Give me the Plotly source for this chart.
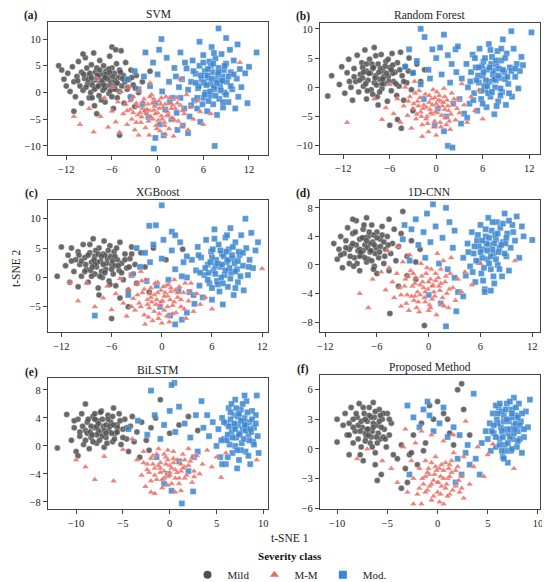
import plotly.graph_objects as go

# t-SNE points (approximate), one list per model and class
svm_mild = [(-13,5),(-12.6,4.2),(-12.3,2.5),(-12,1.2),(-11.8,3.6),(-11.5,0.2),(-11.2,4.8),(-11,2),(-10.8,-0.8),(-10.6,3),(-10.4,5.8),(-10.2,1.2),(-10,-2),(-10,3.8),(-9.8,0.4),(-9.6,2.6),(-9.5,6.5),(-9.3,4.6),(-9.2,1.6),(-9,-1),(-9,3.2),(-8.8,0),(-8.7,5.2),(-8.5,2.2),(-8.4,7.4),(-8.3,-2.5),(-8.2,3.8),(-8,1),(-8,4.6),(-7.8,2.8),(-7.7,-0.6),(-7.6,6),(-7.5,1.8),(-7.4,3.4),(-7.2,0.4),(-7.1,5),(-7,2.4),(-6.9,-1.8),(-6.8,4),(-6.7,1.2),(-6.5,3),(-6.4,-0.2),(-6.3,6.8),(-6.2,2),(-6,4.6),(-6,8.5),(-5.9,0.8),(-5.8,-3),(-5.7,3.6),(-5.5,1.6),(-5.4,5.4),(-5.3,-1),(-5.2,2.8),(-5,0.2),(-5,4.2),(-4.8,7.8),(-4.7,1.2),(-4.5,3.2),(-4.4,-2),(-4.2,5.6),(-4,0.6),(-3.8,2.4),(-3.6,-0.8),(-3.5,4.2),(-3.2,1.4),(-3,-2.6),(-2.8,3.2),(-2.5,0),(-2,2),(-1.5,-3.5),(-1,4),(-5,-8),(-8,-4),(-11,-3.5),(-9.8,7.2),(-5.5,8),(-8.6,1.4),(-7.9,3.2),(-7.3,2.2),(-6.6,2.6),(-6.1,1.2),(-8.1,2.4),(-7,0.8),(-9.1,2.4),(-6.4,4.4),(-5.6,2.2),
            (-9.4,1),(-8.9,3.6),(-8.3,0.6),(-7.6,4.2),(-7.1,1.4),(-6.8,3.4),(-6.2,0.4),(-5.9,3),(-5.3,1.8),(-4.9,3.8),(-4.3,2),(-3.9,1),(-8.7,2.8),(-7.8,1.2),(-6.9,2.8),(-6.3,3.8),(-5.6,0.6),(-4.6,2.6),(-9.7,3.4),(-10.5,2.2),(-3.4,2.8),(-2.9,0.8),(-7.4,-1.4),(-6,-0.8),(-8.6,-1)]
svm_mm = [(-11,-4.5),(-10.2,-6),(-8.4,-7.4),(-9,-3),(-7.5,-4.5),(-7,-1),(-6.5,-6.5),(-6,-3.5),(-5.5,-5.5),(-5.2,-1.8),(-5,-7.5),(-4.8,0.2),(-4.5,-4),(-4.2,-2.2),(-4,-6),(-3.8,1),(-3.6,-3.2),(-3.4,-5),(-3.2,-0.8),(-3,-7),(-2.8,-2),(-2.6,-4.2),(-2.4,0.4),(-2.2,-5.6),(-2,-3),(-1.8,-1.2),(-1.6,-6.6),(-1.5,-4),(-1.3,-2.2),(-1.1,-8),(-1,-3.4),(-0.8,-0.4),(-0.6,-5),(-0.4,-2.6),(-0.2,-6.2),(0,-3.8),(0.2,-1.6),(0.3,-7.2),(0.5,-4.4),(0.7,-2.8),(0.9,-5.6),(1.1,-0.8),(1.3,-3.6),(1.5,-6.8),(1.7,-2),(1.9,-4.8),(2.1,-8.2),(2.3,-3),(2.5,-1),(2.7,-5.4),(3,-2.4),(3.2,-6.4),(3.5,-4),(3.8,-0.4),(4,-7),(4.3,-2.8),(4.7,-5),(5.2,-1.6),(5.6,-3.6),(6,-6),(7,-4),(10.8,5.6),(3,2.5),(-1,1.8),(-6,1),(-8,2.5),(-2.5,-8),(1,-7.8),(-0.5,-1.2),(0.4,-2.2),(-1.4,-3.2),(1.2,-4.4),(-2.3,-3.8),(2,-2.4),(-0.9,-4.6),(0.1,-5.2),
          (-2.6,-2.6),(-2.1,-4.6),(-1.7,-3.4),(-1.2,-5.4),(-0.7,-2),(-0.3,-4),(0.2,-3),(0.6,-5),(1,-2.2),(1.4,-4.2),(1.8,-3),(2.2,-5.2),(2.6,-2),(-1.9,-1.8),(-0.1,-6.8),(0.9,-6.2),(-3.2,-3.8),(-2.8,-5.6),(3.3,-3.4),(-0.5,-3.3),(0.5,-1),(1.6,-1),(-1,-0.8),(-4,-3.4),(-3.6,-1.6)]
svm_mod = [(3,-1),(3.2,2.5),(3.5,-3),(3.8,4.5),(4,0.5),(4.2,-4.5),(4.4,2),(4.6,6),(4.8,-1.5),(5,3.5),(5.2,-3),(5.3,0.8),(5.5,5),(5.6,-5.5),(5.8,2.4),(6,-1),(6,7),(6.2,4),(6.3,0),(6.5,-3.5),(6.6,2.8),(6.8,5.8),(6.9,-0.6),(7,1.6),(7.1,8.5),(7.2,3.8),(7.3,-2.2),(7.5,0.6),(7.6,6.4),(7.7,2.4),(7.8,-4.2),(8,4.6),(8.1,-1.2),(8.2,1.2),(8.4,7.2),(8.5,3),(8.6,-2.8),(8.8,0),(9,5.4),(9.1,2),(9.3,-1.8),(9.5,8),(9.6,3.8),(9.8,0.6),(10,6),(10.2,-3),(10.4,2.6),(10.6,-0.8),(10.8,4.4),(11,1),(11.5,3.6),(11.8,-2),(12,4.8),(13,7.5),(8,12),(9,10.2),(7.5,-10),(10.5,9),(5.5,9.5),(6.5,3.2),(7.4,1),(8.3,2.2),(6.1,1.8),(7.9,3.4),(5.9,-2.2),(8.7,4.2),(6.7,-1.6),(7,5),
           (5.4,1.2),(5.7,3.2),(6.2,-0.4),(6.4,1.4),(6.6,4.4),(6.9,0.2),(7.1,2.6),(7.3,5.4),(7.6,-0.6),(7.8,1.8),(8,3.8),(8.3,0.4),(8.5,2.2),(8.8,5),(9,-0.4),(9.3,3),(9.6,1.2),(5,1.8),(4.7,4),(10,3.4),(6,5.6),(7.4,7.4),(8.6,-1.8),(5.2,-1),(4.4,-2.4),
           (-3,4),(-2.5,0.6),(-2,-2.2),(-1.8,3),(-1.2,-4.6),(-1,1.2),(-0.6,5.6),(-0.3,-2),(0,3.4),(0.3,-6),(0.5,10),(0.6,0.2),(1,-3.2),(1.2,6.5),(1.5,2),(1.8,-5),(2,-1),(2.2,4.6),(2.5,-3.8),(2.8,1),(3,7.5),(3.3,-6.2),(3.6,5.6),(4,-7.6),(-0.5,-10.5),(-0.3,-8.5),(0.8,-8),(-4,2.5),(-3.5,-1),(1.6,-1.8),(2.4,3),(-1.6,7.5),(0.2,8),(2.6,-7)]

rf_mild = [(-14,-1.5),(-13.5,2),(-12.5,0.5),(-12.2,3.5),(-11.8,-1),(-11.5,2.5),(-11.3,4.8),(-11,0),(-10.8,-2.2),(-10.6,3.2),(-10.4,1),(-10.2,5.5),(-10,-0.8),(-9.8,2.2),(-9.6,4.2),(-9.4,0.2),(-9.2,6.4),(-9,-2),(-9,2.8),(-8.8,1.2),(-8.6,4.8),(-8.4,-0.4),(-8.2,3.2),(-8,0.8),(-8,6.8),(-7.8,2),(-7.6,-1.6),(-7.5,4),(-7.3,1.4),(-7.1,5.6),(-7,-0.2),(-6.9,2.8),(-6.7,0.6),(-6.5,4.4),(-6.3,-2.4),(-6.2,1.8),(-6,3.4),(-5.8,-0.6),(-5.7,5.8),(-5.5,1),(-5.3,2.6),(-5.1,-1.4),(-5,4.2),(-4.8,0.2),(-4.6,6),(-4.4,2),(-4.2,-2.2),(-4,3.6),(-3.8,0.8),(-3.5,5),(-3.2,-0.4),(-3,2.4),(-2.5,4),(-2,1),(-1.5,3),(-6,-6.5),(-5,-5.5),(-4.5,-7),(-3,-4),(-7.5,-3),(-9.5,1.6),(-8.5,2.4),(-7.7,0.4),(-6.8,1.8),(-7.2,3.2),(-8.2,-1.2),(-6.4,2.4),(-9,4),(-5.6,3.8),
           (-9.9,1.2),(-9.5,3.4),(-9.1,0.6),(-8.7,2.4),(-8.3,4),(-7.9,1.6),(-7.4,2.6),(-7,0.6),(-6.6,3.6),(-6.1,1),(-5.6,2.4),(-5.2,0.6),(-4.7,3),(-8.9,-0.6),(-7.3,-0.8),(-10.6,1.8),(-11.2,1),(-6.2,4.8),(-7.8,5.4),(-4.2,1),(-3.6,2.8),(-9.4,2.6),(-8.1,3.4),(-6.9,1.4),(-5.8,3)]
rf_mm = [(-11.5,-6),(-7,-5.5),(-8,-2),(-6.5,-3.5),(-6,0.5),(-5.5,-4.5),(-5,-2),(-4.6,-6),(-4.2,-3.2),(-4,0),(-3.7,-4.8),(-3.4,-1.6),(-3.2,-7),(-3,-3.6),(-2.8,1),(-2.6,-5.4),(-2.4,-2.4),(-2.2,-0.6),(-2,-4.2),(-1.8,-6.4),(-1.6,-3),(-1.4,-1.2),(-1.2,-5),(-1,-7.6),(-0.8,-3.8),(-0.6,-2),(-0.4,-0.4),(-0.2,-5.8),(0,-2.8),(0.2,-4.4),(0.4,-1.4),(0.6,-6.8),(0.8,-3.2),(1,-0.2),(1.2,-5.2),(1.4,-2.2),(1.6,-4),(1.8,-7.2),(2,-1),(2.2,-3),(2.5,-5.6),(2.8,-2),(3,-4.4),(3.3,0.6),(3.6,-3),(4,-6),(4.5,-1.6),(5,-4),(6,-5.4),(5.5,-0.5),(-1.8,-8.4),(0,-8.2),(-0.5,-4.6),(0.6,-2.4),(-1.3,-3.4),(1.1,-3.8),(-0.2,-1.8),(0.3,-3.4),(-0.9,-2.6),(1.7,-5.8),(-2.7,-1),
         (-2.9,-2.8),(-2.5,-4.6),(-2.1,-1.8),(-1.7,-3.6),(-1.3,-5.4),(-0.9,-1.4),(-0.5,-3),(-0.1,-4.2),(0.3,-2.2),(0.7,-4.8),(1.1,-1.6),(1.5,-3.2),(1.9,-4.6),(2.3,-2),(-1.1,-6.2),(0.5,-6),(-1.9,-5),(-0.3,-6.8),(2.7,-3.6),(-3.6,-2.4),(0.9,-2.6),(-0.7,-4.4),(0.1,-0.8),(1.3,-6.4),(-2.3,-3.2)]
rf_mod = [(3,-2),(3.3,1.5),(3.6,-4.5),(3.9,4),(4.1,0),(4.3,-2.8),(4.5,2.6),(4.7,5.6),(4.9,-1),(5.1,3.4),(5.3,-4),(5.5,0.8),(5.6,6.6),(5.8,-2),(6,2),(6.1,4.4),(6.3,-0.4),(6.5,-3.4),(6.6,3),(6.8,7.4),(6.9,1),(7,-1.6),(7.2,5.2),(7.3,2.2),(7.5,-4.6),(7.6,0),(7.8,3.8),(7.9,6.2),(8,-2.4),(8.2,1.6),(8.4,4.6),(8.5,-0.8),(8.6,8.2),(8.8,2.6),(9,-3),(9.1,5.8),(9.3,0.6),(9.5,3.4),(9.7,9.6),(9.8,-1.6),(10,6.6),(10.2,1.8),(10.4,4),(10.6,-0.2),(10.8,2.8),(11,5.2),(11.2,3.8),(12.3,9.4),(6.4,1.2),(7.4,2.8),(8.1,3.2),(6.7,-1),(5.9,3.6),(7.7,1.2),(8.9,1.4),(5.4,2),(7.1,4),(6.2,0.2),(8.3,-1.4),
          (5.2,1.2),(5.5,3.4),(5.8,-0.6),(6.1,2.6),(6.3,5),(6.6,0.2),(6.9,3.4),(7.2,-0.8),(7.5,1.4),(7.7,4.6),(8,2),(8.3,-0.2),(8.6,3),(8.9,5),(9.2,1.8),(9.4,-1),(9.7,2.8),(4.8,-2.2),(4.4,1),(5,5),(7,6.4),(8.4,6.6),(6,-2.8),(7.8,-3.2),(10.2,3.2),
          (-2,10),(-1.5,8.6),(1,9),(-0.5,6.5),(0.5,6.8),(1.5,5.5),(-2.5,4.5),(-1,3),(0,5),(2,4),(2.5,6.5),(-3,2.5),(-2,0.5),(-0.8,1.5),(0.7,2.2),(1.8,0.8),(2.6,2.6),(-1.6,-2),(0.2,-3.6),(1.3,-5),(2.2,-2.8),(-0.2,-6.5),(1,-7.5),(1.5,-10),(2.1,-10.3),(3.2,-6.2),(4,-5.2),(-4,3.5),(-3.5,6.5),(2.8,7)]

xgb_mild = [(-12.5,0.2),(-12,5.2),(-11.5,2),(-11.2,3.8),(-11,-0.8),(-10.8,5),(-10.5,1),(-10.3,3),(-10,-1.6),(-10,4.4),(-9.8,2.2),(-9.6,0.2),(-9.4,5.6),(-9.2,3.4),(-9,1.4),(-8.8,-0.8),(-8.6,4.2),(-8.4,2.6),(-8.2,6.6),(-8,0.6),(-8,3.6),(-7.8,1.8),(-7.6,-1.8),(-7.5,5),(-7.3,2.8),(-7.1,0),(-7,4),(-6.9,6.2),(-6.7,1.4),(-6.5,3.2),(-6.3,-0.6),(-6.2,5.4),(-6,2.2),(-5.8,0.6),(-5.7,4.4),(-5.5,-1.4),(-5.3,3),(-5.1,1.2),(-5,6),(-4.8,2.4),(-4.6,-0.4),(-4.4,4),(-4.2,1.6),(-4,-2.2),(-3.8,3.2),(-3.6,5.2),(-3.4,0.6),(-3.2,2.2),(-3,-1),(-2.5,4.2),(-2,1.8),(-1.5,-2.5),(-1,5),(0.5,3),(2.5,4.8),(-6,-7),(-4,-5),(-5,-3.5),(-7.5,-3),(-8.5,1.2),(-7.7,2.6),(-6.6,2.4),(-7.2,1),(-6.1,3.6),(-8.1,3),(-5.6,2),(-9.1,2.2),(-6.8,3.8),(-7.9,4.6),
            (-9.6,2.8),(-9.2,1),(-8.8,3.8),(-8.4,0.2),(-8,2.2),(-7.6,4),(-7.2,3.6),(-6.8,0.8),(-6.4,4.6),(-6,1.4),(-5.6,3.6),(-5.2,2),(-4.8,0.8),(-4.4,3),(-3.9,1.8),(-9.9,3.8),(-10.8,2.8),(-8.6,5.6),(-7.4,0.2),(-5.4,5),(-6.2,-1.2),(-3.6,4),(-7,2.2),(-8.3,1.8),(-5.9,2.8)]
xgb_mm = [(-10,-4),(-9,-1),(-8,-5),(-11,-0.8),(-7,-3.5),(-6.5,-1.5),(-6,-5.5),(-5.5,-2.8),(-5,-0.2),(-4.6,-4.4),(-4.2,-6.6),(-4,-2),(-3.7,0.4),(-3.4,-3.6),(-3.2,-5.6),(-3,-1.2),(-2.7,-4.4),(-2.5,1),(-2.3,-2.6),(-2.1,-6.4),(-1.9,-0.4),(-1.7,-3.8),(-1.5,-5.2),(-1.3,-1.8),(-1.1,-7.4),(-0.9,-3),(-0.7,-4.6),(-0.5,-0.8),(-0.3,-6.2),(-0.1,-2.2),(0.1,-4),(0.3,-5.6),(0.5,-1.4),(0.7,-3.2),(0.9,-7.6),(1.1,-2.4),(1.3,-4.8),(1.5,-0.4),(1.7,-6),(1.9,-3.4),(2.1,-1.6),(2.3,-5),(2.6,-2.6),(2.9,-7),(3.2,-4),(3.5,-1),(3.8,-5.8),(4.2,-2.8),(4.6,-4.6),(5.2,-3.4),(6,-5.4),(12,1.5),(-2,-8),(0,-7.8),(-0.6,-3.8),(0.4,-2.6),(-1.4,-2.8),(1,-3.8),(-0.2,-4.8),(0.8,-1.2),(-1.2,-4.2),(1.6,-2.2),
          (-2.9,-3),(-2.5,-5),(-2.1,-2),(-1.7,-4.6),(-1.3,-3.4),(-0.9,-5.8),(-0.5,-2.6),(-0.1,-4.2),(0.3,-3.2),(0.7,-5),(1.1,-1.8),(1.5,-4.2),(1.9,-2.6),(2.3,-3.8),(2.7,-5.4),(-1.6,-6.8),(0.6,-6.6),(-3.6,-5),(3.4,-2.4),(-0.8,-1),(0.2,-1.6),(1.3,-6.2),(-2.4,-0.6),(2.8,-1),(-0.4,-7)]
xgb_mod = [(3,0),(3.3,-2.5),(3.6,3),(3.9,-4.5),(4.1,1.2),(4.3,5.2),(4.5,-1.4),(4.7,3.4),(4.9,-3.4),(5.1,0.4),(5.3,6.4),(5.5,2.2),(5.7,-1),(5.9,4.4),(6,-3.8),(6.2,1.2),(6.3,8.2),(6.5,3),(6.6,-0.6),(6.8,5.6),(6.9,-2.4),(7,1.8),(7.2,4),(7.3,-4.6),(7.5,0.4),(7.6,6.8),(7.8,2.6),(7.9,-1.6),(8,4.8),(8.2,8.4),(8.3,0.8),(8.5,3.2),(8.6,-3),(8.8,6),(9,1.4),(9.1,-0.8),(9.3,3.8),(9.5,7.2),(9.7,2),(9.8,-2.2),(10,10),(10.1,5),(10.3,0.4),(10.5,3),(10.7,7.6),(10.9,1.6),(11.2,4.6),(11.5,6),(8.7,2.4),(7.4,3.6),(6.4,2),(7.1,0),(8.1,1.6),(6,3.4),(7.7,4.4),(5.6,0.8),(9.2,4.4),(6.7,-1.2),
           (5.2,1.6),(5.5,-0.4),(5.8,2.6),(6.1,4.8),(6.4,0.6),(6.7,2.4),(7,4.6),(7.3,-1),(7.6,1.2),(7.9,3),(8.2,-0.2),(8.5,5.2),(8.8,1),(9.1,2.8),(9.4,0.2),(9.7,4.2),(4.6,0.8),(4.4,3.8),(6.3,6.6),(7.8,7.2),(8.8,-1.8),(6,-1.8),(10.4,1.8),(7.2,2.2),(8.4,3.8),
           (0,12.3),(-1.5,8.8),(-0.7,8.9),(1.2,7.8),(1.6,7.2),(-3,5),(-2,4.2),(-1,5.6),(0.2,6.4),(1.2,4.6),(2.2,6),(3,3.6),(-2.6,1.8),(-1.4,2.6),(0,3.2),(1.6,1.4),(2.4,0.2),(-1.8,-0.6),(-0.6,-1.4),(0.8,-0.4),(2,-2.2),(-0.2,-5),(1,-6.5),(2.4,-7.2),(1.6,-8),(3,-6),(-8,-6.5),(-4,-3),(3.8,-3),(2.6,2.6),(-3.6,0.4)]

cnn_mild = [(-11,3),(-10.6,0.8),(-10.4,2.2),(-10.2,4),(-10,-0.4),(-9.8,1.6),(-9.6,3.4),(-9.4,5.2),(-9.2,0.2),(-9,2.6),(-8.8,4.4),(-8.6,1),(-8.4,6.2),(-8.2,2),(-8,-0.8),(-8,3.6),(-7.8,1.4),(-7.6,5),(-7.4,2.8),(-7.2,0.4),(-7,4),(-6.8,1.8),(-6.6,5.6),(-6.5,3.2),(-6.3,-0.2),(-6.1,2.4),(-6,4.6),(-5.8,1),(-5.6,3.6),(-5.4,5.4),(-5.2,0.2),(-5,2.2),(-4.8,4),(-4.6,-0.8),(-4.4,1.6),(-4.2,3),(-4,5),(-3.8,0.6),(-3.5,2.6),(-3.2,4.4),(-3,7.5),(-2.5,1.2),(-2,3.4),(-1.5,0.4),(-1,2.2),(-8.8,6.4),(-7.2,6.6),(-4.6,6.4),(-0.5,-8.5),(-2.5,-1.5),(-3.5,-3),(-4.5,-6.8),(-1.5,-2),(-6,-1.2),(-8.4,2.8),(-7.6,2),(-6.8,3),(-7.4,3.8),(-8,1.2),(-6.2,1.6),(-5.6,2.6),(-9.2,2.2),(-7,0.8),(-6.4,4.2),
            (-9.1,1.2),(-8.8,3),(-8.5,4.6),(-8.3,0.2),(-8,2.2),(-7.7,3.8),(-7.4,1),(-7.1,2.4),(-6.9,4.6),(-6.6,0.6),(-6.3,2.8),(-6,3.8),(-5.7,1.8),(-5.4,4.2),(-5.1,1.2),(-4.7,2.8),(-9.6,2.4),(-10.2,1.4),(-7.5,5.6),(-6.4,-0.6),(-8.7,-0.2),(-5.2,3.2),(-7.9,1.8),(-6.7,2),(-7.2,3.4)]
cnn_mm = [(-7,-6),(-8,-4),(-6.5,-2),(-5.5,-1),(-5,-3.5),(-4.6,-0.4),(-4.2,-2.4),(-4,-4.6),(-3.7,-1.2),(-3.4,-3.2),(-3.2,-5.8),(-3,0.4),(-2.7,-2),(-2.5,-4.2),(-2.3,-6.4),(-2.1,-0.8),(-1.9,-3),(-1.7,-5),(-1.5,-1.8),(-1.3,-3.8),(-1.1,-6.6),(-0.9,0.2),(-0.7,-2.4),(-0.5,-4.6),(-0.3,-1.2),(-0.1,-3.4),(0.1,-5.6),(0.3,-0.6),(0.5,-2.8),(0.7,-4.4),(0.9,-7),(1.1,-1.8),(1.3,-3.6),(1.5,-5.4),(1.7,0.6),(1.9,-2.4),(2.1,-4),(2.3,-6),(2.5,-1.2),(2.8,-3.2),(3.1,-5),(3.4,-2),(3.8,-3.8),(4.2,-1),(5,-2.8),(-4.8,2),(-3.6,2.6),(-2.2,1.4),(1,1.6),(2.6,1),(6,0.2),(10,0.6),(-0.6,-3.2),(0.2,-2),(-1,-2.8),(0.6,-3.8),(-0.4,-5.2),(-1.6,-4.4),(1.4,-2.6),(0,-6.4),
          (-2.8,-3),(-2.4,-1.6),(-2,-4.4),(-1.6,-2.6),(-1.2,-5.2),(-0.8,-1.6),(-0.4,-3.8),(0,-2.4),(0.4,-4.8),(0.8,-1.2),(1.2,-3),(1.6,-4.6),(2,-1.6),(2.4,-3.4),(-3.2,-4.2),(-1.4,-6),(0.2,-6),(1.8,-5.8),(-2.6,-5.4),(-0.2,-0.4),(0.8,-2.2),(-1,-4.2),(0.4,-3),(-1.8,-1.2),(1.4,-0.6)]
cnn_mod = [(4,1),(4.3,-1.5),(4.5,3),(4.8,-0.2),(5,4.6),(5.2,1.6),(5.4,-2.4),(5.6,3.4),(5.8,0.4),(6,5.6),(6.1,-1.2),(6.3,2.2),(6.5,-3.4),(6.6,4),(6.8,0.8),(6.9,6.6),(7,2.8),(7.2,-0.6),(7.3,4.8),(7.5,1.6),(7.6,-2.6),(7.8,3.6),(7.9,6),(8,0),(8.2,2.4),(8.3,5.2),(8.5,-1.6),(8.6,3.2),(8.8,7.2),(9,1.2),(9.1,4.4),(9.3,-0.8),(9.5,2.4),(9.7,5.6),(10,3.4),(10.2,6.8),(10.5,1),(10.8,5.4),(11,4),(12,3.5),(6.5,-3.8),(7.2,-3.6),(7.4,2.2),(6.7,3),(8.1,1.8),(6.2,1),(7.7,4.2),(5.8,2.6),(8.9,3),(7,0.2),
           (5.3,2.6),(5.5,0.6),(5.7,4.2),(6,1.8),(6.2,3.4),(6.4,-0.4),(6.6,5),(6.8,2),(7,3.8),(7.2,1.2),(7.4,6),(7.6,3),(7.8,0.8),(8,4.4),(8.2,-0.6),(8.4,2.8),(8.6,5.8),(8.8,1.6),(9,3.8),(9.3,6.2),(6.3,-2.2),(7.5,-1.6),(5.1,-1),(4.6,1.8),(9.8,4.6),
           (0.5,8.5),(2,8),(-0.2,7.2),(-1.5,6.4),(-2,5),(-0.6,4.6),(0.8,5.4),(2.4,6),(3,4.8),(-1.2,2.8),(0.2,3.2),(1.6,3.8),(2.8,2.4),(-2.2,0.6),(-0.4,1),(1.2,0.2),(2.2,-0.6),(3,-1.8),(3.4,-3.8),(3.2,-6.5),(2,-8.6),(4,-4.4),(-3,3.6),(-2.8,5.6),(1.4,-5.4),(0,-4.2)]

bil_mild = [(-12,-0.3),(-11,4.5),(-10.5,0.8),(-10.2,2.6),(-10,-0.8),(-9.8,3.8),(-9.6,1.4),(-9.4,4.6),(-9.2,0.2),(-9,2.2),(-9,6),(-8.8,3.4),(-8.6,-0.4),(-8.4,1.2),(-8.2,4.2),(-8,2.6),(-7.8,0.4),(-7.7,3.6),(-7.5,1.8),(-7.3,5),(-7.1,2.8),(-7,-0.2),(-6.8,1.2),(-6.6,4.4),(-6.5,2.2),(-6.3,3.4),(-6.1,0.6),(-6,5.4),(-5.8,1.8),(-5.6,3),(-5.4,4.6),(-5.2,0.2),(-5,2.4),(-4.8,3.8),(-4.6,1),(-4.4,-0.8),(-4.2,2.8),(-4,4.2),(-3.8,0.6),(-3.5,2),(-3,3.4),(-2.5,0.8),(-2,2.6),(-1.5,4),(-1,6.6),(0,1.8),(1,3),(2,4.2),(3,2.2),(-3.2,-1.6),(-2.2,-0.6),(-9.8,-1.4),(-8.4,2.8),(-7.6,2.2),(-6.8,3),(-7.2,1.4),(-8,3.8),(-6.2,1.8),(-5.6,2.6),(-7.8,1.6),(-6.6,3.8),(-8.8,1.8),
            (-9.3,2.8),(-9,0.8),(-8.7,3.8),(-8.5,2),(-8.2,0.6),(-8,4.6),(-7.8,2.8),(-7.5,0.8),(-7.2,3.8),(-7,2.2),(-6.7,0.4),(-6.4,2.8),(-6.1,4.2),(-5.9,1),(-5.6,2),(-5.3,3.6),(-5,1.2),(-4.6,2.6),(-9.6,2),(-10.2,3.6),(-7.4,4.8),(-6.8,1.8),(-8.3,1.6),(-6,3),(-7.6,3.2)]
bil_mm = [(-10,-2),(-9,-3),(-8,-4.8),(-6,-5),(-7,-1.5),(-5,-0.5),(-4,1),(-3.5,-2),(-3,-4.2),(-2.8,-0.8),(-2.6,-5.8),(-2.4,-2.6),(-2.2,-3.8),(-2,-6.6),(-1.8,-1.4),(-1.6,-3.2),(-1.4,-4.8),(-1.2,-0.4),(-1,-2.4),(-0.8,-6),(-0.6,-3.6),(-0.4,-1.6),(-0.2,-4.4),(0,-2.8),(0.2,-5.4),(0.4,-0.8),(0.6,-3.4),(0.8,-2),(1,-4.6),(1.2,-6.4),(1.4,-1.2),(1.6,-3),(1.8,-4.2),(2,-0.4),(2.2,-2.2),(2.4,-5.2),(2.6,-3.6),(2.9,-1.4),(3.2,-4),(3.5,-2.6),(4,-0.6),(4.5,-3),(5,-1.6),(5.5,-4.5),(6,-1),(9.3,-2),(-1.6,-6.8),(0.6,-6.6),(-0.2,-2),(-1,-3.8),(0.4,-2.4),(1.2,-3.6),(-0.6,-4.6),(1.6,-2),(0,-3.8),(-1.8,-2.6),
          (-2.4,-3.4),(-2,-1.8),(-1.6,-4.2),(-1.2,-2.8),(-0.8,-4.8),(-0.4,-2.6),(0,-4.2),(0.4,-1.8),(0.8,-3.8),(1.2,-2.6),(1.6,-4.6),(2,-2.8),(2.4,-1.6),(-1.4,-1.2),(-0.2,-5.6),(1,-5.4),(-2,-5),(2.6,-4.4),(-0.6,-1.2),(0.2,-3.2),(-1,-3.2),(1.4,-3.2),(0.6,-4.6),(-0.2,-0.6),(-2.8,-2.4)]
bil_mod = [(5,0),(5.2,2.4),(5.4,-1.6),(5.6,4),(5.8,1),(6,-2.6),(6.1,3.2),(6.3,5.4),(6.4,0.2),(6.6,2),(6.7,-1),(6.9,4.4),(7,6.6),(7.1,1.2),(7.3,3),(7.4,-2),(7.6,5.2),(7.7,0.4),(7.8,2.4),(8,4),(8.1,-0.8),(8.2,6.4),(8.4,1.6),(8.5,3.4),(8.6,-2.6),(8.8,5),(8.9,0.6),(9,2.6),(9.2,4.4),(9.3,7.2),(9.4,1.4),(9.5,-1),(8,7.2),(6.6,6),(5.6,-2.6),(7.2,-3.2),(6.8,2.8),(7.5,1.8),(8.2,2.8),(6.2,1.6),(7.9,3.6),(7,0),(8.7,2),(6.5,3.8),(7.6,-0.6),(7.3,4.2),
           (6.1,0.8),(6.3,2.8),(6.5,4.8),(6.7,1.2),(6.9,3.2),(7.1,5.4),(7.2,-0.6),(7.4,1.6),(7.6,3.6),(7.8,6),(7.9,1),(8.1,2.2),(8.3,4.8),(8.4,-1.4),(8.6,2.4),(8.8,3.8),(9,0.2),(9.2,3.2),(5.8,3.4),(5.5,0.8),(6.2,-1.6),(7,2.4),(8,3),(7.4,4.6),(8.5,0.8),
           (0.5,9),(0.2,8.7),(-2,7.9),(1.3,-8.2),(2.5,-6.5),(-3.4,3.6),(-2.4,1.6),(-1.6,4.4),(-1,1),(-0.6,3),(0,5),(0.6,2),(1,5.6),(1.6,3.2),(2.2,1.2),(2.8,4.4),(3.4,6.4),(3.6,2.6),(4.2,1.4),(4.6,3.4),(-1.4,-1.6),(-0.2,-4),(1,-2.2),(2,-3.6),(3,-0.8),(0.2,-6.4),(-0.6,-5.4),(-4.4,2.4),(4,4.4),(2.6,-1.6)]

pro_mild = [(-10,3),(-10,0.7),(-9.2,3.6),(-9,1.4),(-8.8,2.6),(-8.6,4.2),(-8.4,0.6),(-8.2,1.8),(-8,3.2),(-7.8,4.6),(-7.6,0.2),(-7.5,2.2),(-7.3,3.6),(-7.1,1.2),(-7,2.8),(-6.8,4.2),(-6.7,0.6),(-6.5,1.8),(-6.3,3.2),(-6.2,-0.4),(-6,2.4),(-5.8,4),(-5.7,1),(-5.5,3),(-5.3,2),(-5.1,0.2),(-5,3.6),(-4.8,1.4),(-4.6,2.6),(-4.4,-0.6),(-6.4,4.7),(-7.7,-0.6),(-6.2,-1.6),(-5.6,-2.6),(-6,-3.2),(-7.4,-1.2),(-8.8,-0.6),(-6.9,2),(-6.4,2.6),(-7.2,1.6),(-5.9,1.6),(-6.6,3.2),(-7.9,2.4),(-5.4,1.2),(-8.4,3),
            (-8.4,2.2),(-8.1,3.6),(-7.9,1),(-7.6,2.8),(-7.4,4.2),(-7.2,0.8),(-7,2),(-6.8,3.4),(-6.6,1.2),(-6.4,2.2),(-6.2,3.8),(-6,0.6),(-5.8,2.8),(-5.6,2.2),(-5.4,3.6),(-5.2,1),(-4.8,3),(-7.7,1.8),(-6.9,1.4),(-6.1,1.2),(-5.7,3.4),(-7.2,3),(-6.5,0.2),(-8.8,1.4),(-9.4,2.4),
            (-4,-1),(-3.6,0.4),(-3.2,-2),(-2.8,-0.6),(-2.4,1.4),(-2,-1.6),(-1.6,2.6),(-1.2,0.6),(-0.8,4.4),(-0.4,3),(0,4.8),(0.6,3.6),(1,3),(1.2,1.6),(2,6),(2.4,6.6),(2.6,4),(-3.6,-4),(-3,-3.4),(-2.6,-0.4),(-1.4,-0.2),(1.6,0.4),(3.2,1.4)]
pro_mm = [(-2.4,-3),(-2,-4.6),(-1.8,-2),(-1.6,-5.6),(-1.4,-3.6),(-1.2,-1.2),(-1,-4.2),(-0.8,-2.6),(-0.6,-5.2),(-0.4,-3.2),(-0.2,-0.8),(0,-4.4),(0.2,-2),(0.4,-3.8),(0.6,-5.6),(0.8,-1.4),(1,-3),(1.2,-4.6),(1.4,-2.4),(1.6,-0.4),(1.8,-3.8),(2,-1.8),(2.2,-4.4),(2.4,-2.8),(2.6,-5),(-0.8,-3.8),(0.3,-2.8),(-0.2,-1.8),(0.8,-4),(-1.2,-2.8),(1.2,-1.6),(0.1,-3.4),
          (-1.5,-3),(-1.2,-4.4),(-0.9,-2),(-0.6,-3.6),(-0.3,-2.6),(0,-3.4),(0.3,-4.6),(0.6,-2.2),(0.9,-3.6),(1.2,-2.8),(1.5,-4.2),(1.8,-2.2),(2.1,-3.2),(-0.4,-4.8),(0.6,-3),(-0.1,-2.2),(1,-4.8),(-1,-2.4),(0.4,-1.6),(1.4,-1.2),(-1.8,-4),(0.2,-5.4),(2.4,-4),(-0.6,-1.4),(1.1,-2),
          (-8,-1),(-7,0),(-5.5,-1.2),(-4.6,-2),(-4,-3.4),(-3.4,0.2),(-3,-4.4),(-2.6,-1.2),(-2.2,0.6),(-1.6,1.8),(-3.2,2),(-0.6,1.4),(0.6,0.8),(1.6,1.4),(2.6,-0.8),(3.2,-3.6),(3.6,-1.8),(4,0.2),(4.6,-2.8),(5,-0.6),(5.5,0.5),(7.6,-2),(2.8,2.8),(-2.4,-5.6)]
pro_mod = [(5,1),(5.2,2.6),(5.3,-0.2),(5.5,3.6),(5.6,1.6),(5.8,0.2),(5.9,3),(6.1,4.2),(6.2,1),(6.3,2.2),(6.5,-0.8),(6.6,3.4),(6.7,0.4),(6.9,4.6),(7,1.6),(7.1,2.8),(7.3,-0.2),(7.4,4),(7.5,1),(7.6,2.4),(7.8,3.4),(7.9,0.2),(8,1.8),(8.1,4.6),(8.3,2.8),(8.4,-0.4),(8.6,1.2),(8.8,3.8),(9,2.2),(9.2,5),(7,-1.4),(6.6,-1),(7.6,5.2),(6.4,3.8),(6.8,2),(7.2,1.2),(7.8,2.6),(6,2.6),(8.2,1),(7.4,3.2),(6.8,-0.2),(5.8,4.4),
           (5.6,2.4),(5.8,1.2),(6,3.6),(6.2,0.4),(6.4,1.8),(6.6,2.8),(6.8,4),(7,0.6),(7.2,2),(7.4,3.6),(7.6,1.6),(7.8,4.2),(8,0.8),(8.2,2.4),(8.4,3.6),(6.4,-0.2),(7.4,0),(6.2,4.6),(7.2,4.8),(8.6,2),(5.4,1.8),(6.9,3),(7.7,2),(6.5,1.2),(8,3.2),
           (-3,4.4),(-2.4,3.2),(-1.8,2.2),(-1.4,4),(-0.8,3.4),(-0.4,1.8),(0.2,2.6),(0.6,4.2),(1,1.2),(1.6,2.2),(2.2,1.4),(2.8,-0.4),(3.2,-1.6),(3.6,5.6),(3.8,-1),(4.4,0.6),(4.8,1.8),(2.4,-2.6),(1.8,-3.4),(-2.8,-2.6),(4.2,-2.6),(-1,4.8),(3,0.4),(2,-1)]

titles = ["SVM", "Random Forest", "XGBoost", "1D-CNN", "BiLSTM", "Proposed Method"]
letters = ["(a)", "(b)", "(c)", "(d)", "(e)", "(f)"]
classes = ["Mild", "M-M", "Mod."]

# the page body has an 8 px margin, so screen pixel p sits at figure pixel p - 8
PAD = 8
W, H = 550, 582
FONT = "Liberation Serif"
colors = {"Mild": "#505050", "M-M": "#EC6A60", "Mod.": "#3A86D2"}
symbols = {"Mild": "circle", "M-M": "triangle-up", "Mod.": "square"}

# screen pixel boxes (left, right, top, bottom), axis ranges and ticks
panels = [
    (svm_mild, svm_mm, svm_mod, (48, 268, 22, 155), [-14.4, 14.5], [-11.7, 13.2], [-12, -6, 0, 6, 12], [-10, -5, 0, 5, 10]),
    (rf_mild, rf_mm, rf_mod, (320, 540, 23, 154), [-15.0, 13.4], [-11.4, 11.0], [-12, -6, 0, 6, 12], [-10, -5, 0, 5, 10]),
    (xgb_mild, xgb_mm, xgb_mod, (48, 268, 200, 332), [-13.6, 12.7], [-9.3, 13.2], [-12, -6, 0, 6, 12], [-5, 0, 5, 10]),
    (cnn_mild, cnn_mm, cnn_mod, (320, 540, 200, 332), [-12.6, 12.9], [-9.4, 9.1], [-12, -6, 0, 6, 12], [-8, -4, 0, 4, 8]),
    (bil_mild, bil_mm, bil_mod, (48, 268, 378, 509), [-13.0, 10.5], [-9.0, 9.7], [-10, -5, 0, 5, 10], [-8, -4, 0, 4, 8]),
    (pro_mild, pro_mm, pro_mod, (320, 540, 375, 509), [-11.7, 10.2], [-6.1, 7.5], [-10, -5, 0, 5, 10], [-6, -3, 0, 3, 6]),
]

def px(x):
    return (x - PAD) / W

def py(y):
    return 1 - (y - PAD) / H

def label(text, x, y, size, **kw):
    return dict(text=text, x=px(x), y=py(y), xref="paper", yref="paper", showarrow=False,
                xanchor="center", yanchor="middle",
                font=dict(family=FONT, size=size, color="#1a1a1a"), **kw)

fig = go.Figure()
annotations = []

for i, (mild, mm, mod, box, xr, yr, xt, yt) in enumerate(panels):
    n = "" if i == 0 else str(i + 1)
    xa, ya = "x" + n, "y" + n
    l, r, t, b = box
    for cls, pts in [("Mild", mild), ("Mod.", mod), ("M-M", mm)]:
        xs, ys = zip(*pts)
        fig.add_trace(go.Scatter(
            x=xs, y=ys, mode="markers", xaxis=xa, yaxis=ya, showlegend=False,
            marker=dict(color=colors[cls], symbol=symbols[cls], size=6, opacity=0.85,
                        line=dict(color="white", width=0.3)),
        ))
    axis_style = dict(showgrid=False, zeroline=False, showline=True, mirror=True,
                      linecolor="#444444", linewidth=1.2, ticks="outside", ticklen=4,
                      tickcolor="#444444", automargin=False,
                      tickfont=dict(family=FONT, size=10.5, color="#222222"))
    fig.layout["xaxis" + n] = dict(domain=[px(l), px(r)], range=xr, tickvals=xt,
                                   anchor=ya, **axis_style)
    fig.layout["yaxis" + n] = dict(domain=[py(b), py(t)], range=yr, tickvals=yt,
                                   anchor=xa, **axis_style)
    annotations.append(label(titles[i], (l + r) / 2, t - 8, 11.5))
    annotations.append(label("<b>" + letters[i] + "</b>", l - 17, t - 6, 11.5))

# legend-only traces with larger markers
for cls in classes:
    fig.add_trace(go.Scatter(x=[None], y=[None], mode="markers", name=cls,
                             marker=dict(color=colors[cls], symbol=symbols[cls], size=8)))

annotations.append(label("t-SNE 2", 16, 268, 11.5, textangle=-90))
annotations.append(label("t-SNE 1", 290, 538, 11.5))

fig.update_layout(
    width=W, height=H, margin=dict(l=0, r=0, t=0, b=0),
    paper_bgcolor="white", plot_bgcolor="white",
    annotations=annotations,
    legend=dict(orientation="h", x=px(290), xanchor="center", y=py(546), yanchor="top",
                title=dict(text="<b>Severity class</b>", side="top center",
                           font=dict(family=FONT, size=11, color="#111111")),
                font=dict(family=FONT, size=11, color="#222222"), itemwidth=30,
                tracegroupgap=0),
)

fig.write_html("out.html")
